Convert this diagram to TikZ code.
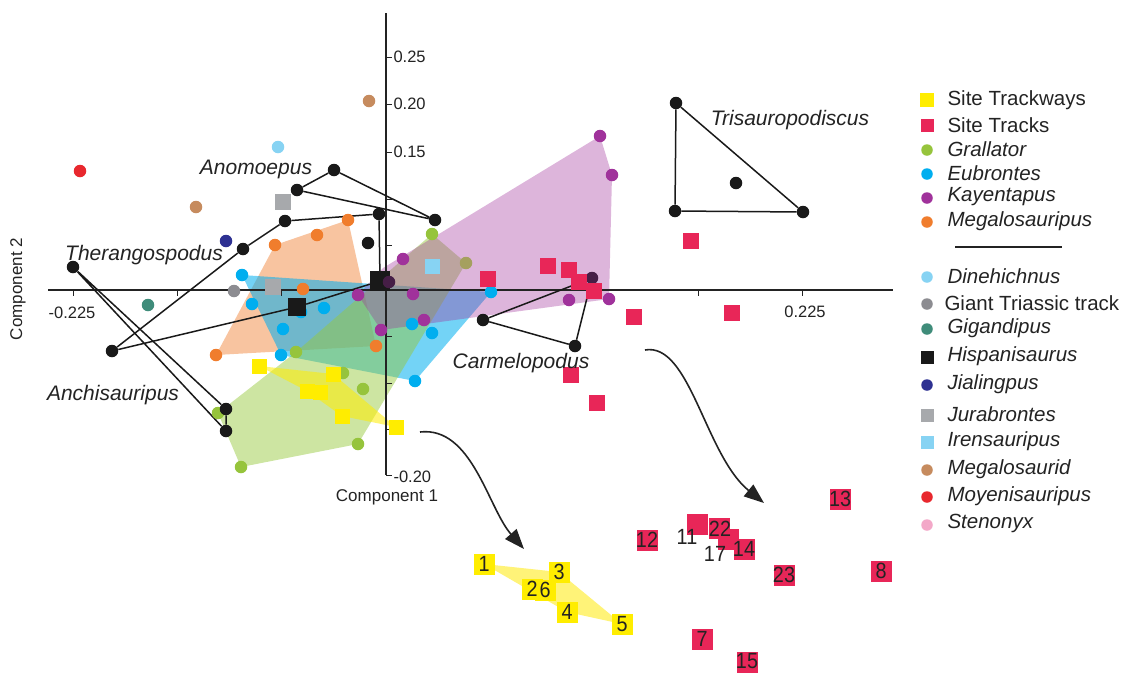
\documentclass[tikz,border=0pt]{standalone}
\usepackage{fontspec}
\setmainfont{Liberation Sans}
\setsansfont{Liberation Sans}
\usetikzlibrary{arrows.meta}
\pgfdeclarelayer{bg}
\pgfdeclarelayer{edges}
\pgfsetlayers{bg,edges,main}
\definecolor{cYel}{RGB}{255,237,0}
\definecolor{cRed}{RGB}{232,38,88}
\definecolor{cGre}{RGB}{150,196,60}
\definecolor{cOli}{RGB}{165,160,95}
\definecolor{cBlu}{RGB}{0,174,239}
\definecolor{cPur}{RGB}{160,50,155}
\definecolor{cOra}{RGB}{240,125,45}
\definecolor{cDin}{RGB}{135,211,243}
\definecolor{cGia}{RGB}{140,140,145}
\definecolor{cGig}{RGB}{63,140,122}
\definecolor{cJia}{RGB}{46,49,146}
\definecolor{cJur}{RGB}{167,169,172}
\definecolor{cMeg}{RGB}{198,139,94}
\definecolor{cMoy}{RGB}{232,40,46}
\definecolor{cSte}{RGB}{243,168,200}
\definecolor{cBlk}{RGB}{25,25,25}
\definecolor{cDpu}{RGB}{70,30,70}
\definecolor{hGre}{RGB}{150,200,60}
\definecolor{hOra}{RGB}{240,125,45}
\definecolor{hBlu}{RGB}{0,174,239}
\definecolor{hPur}{RGB}{160,50,155}
\definecolor{hYel}{RGB}{255,237,0}
\definecolor{hYel2}{RGB}{255,243,120}
\definecolor{cTxt}{RGB}{35,35,35}
\tikzset{
  dot/.style={circle, fill=#1, inner sep=0pt, minimum size=12.5pt},
  sq/.style={rectangle, fill=#1, inner sep=0pt, minimum size=15pt},
  hull/.style={fill=#1},
  genus/.style={draw=cBlk, line width=1.5pt},
  lab/.style={font=\fontsize{21}{24}\selectfont\itshape, text=cTxt},
  ticklab/.style={font=\fontsize{16.5}{19}\selectfont, text=cTxt},
  leg/.style={anchor=west, font=\fontsize{20.5}{24}\selectfont, text=cTxt},
  numbox/.style={rectangle, fill=#1, inner sep=0pt, minimum size=21pt},
  numtxt/.style={inner sep=0pt, font=\fontsize{22}{24}\selectfont, text=cTxt},
  curvedarrow/.style={draw=cTxt, line width=1.6pt, -{Triangle[length=20pt,width=15pt]}},
  axisline/.style={draw=cTxt, line width=1.5pt}
}
\newcommand{\nrw}[1]{\scalebox{0.9}[1]{#1}}
\begin{document}
\begin{tikzpicture}[x=1pt,y=-1pt]
\useasboundingbox (0,0) rectangle (1129,673);
% axes
\coordinate (xl) at (48,290); \coordinate (xr) at (893,290);
\coordinate (yt) at (386,13); \coordinate (yb) at (386,475);
\begin{pgfonlayer}{edges}
\draw[axisline] (xl) -- (xr);
\draw[axisline] (yt) -- (yb);
\foreach \x in {73,177,281,490,594,698,802} \draw[axisline,line width=1pt] (\x,290) -- (\x,296);
\foreach \y in {57,104,152,199,245,336,383,429,475} \draw[axisline,line width=1pt] (386,\y) -- (392,\y);
\end{pgfonlayer}
\node[ticklab, anchor=west] at (390,57) {0.25};
\node[ticklab, anchor=west] at (390,104) {0.20};
\node[ticklab, anchor=west] at (390,152) {0.15};
\node[ticklab, anchor=west] at (390,477) {-0.20};
\node[ticklab] at (72,313) {-0.225};
\node[ticklab] at (805,312) {0.225};
\node[font=\fontsize{17}{20}\selectfont, text=cTxt, rotate=90] at (18,289) {Component 2};
\node[font=\fontsize{17}{20}\selectfont, text=cTxt] at (387,497) {Component 1};

% green (Grallator)
\node[dot=cGre] (g1) at (432,234) {};
\node[dot=cOli] (g2) at (466,263) {};
\node[dot=cGre] (g3) at (296,352) {};
\node[dot=cGre] (g4) at (343,373) {};
\node[dot=cGre] (g5) at (218,413) {};
\node[dot=cGre] (g6) at (241,467) {};
\node[dot=cGre] (g7) at (358,444) {};
\node[dot=cGre] (g8) at (363,389) {};
% orange (Megalosauripus)
\node[dot=cOra] (o1) at (275,245) {};
\node[dot=cOra] (o2) at (317,235) {};
\node[dot=cOra] (o3) at (348,220) {};
\node[dot=cOra] (o4) at (303,289) {};
\node[dot=cOra] (o5) at (216,355) {};
\node[dot=cOra] (o6) at (376,346) {};
% blue (Eubrontes)
\node[dot=cBlu] (b1) at (242,275) {};
\node[dot=cBlu] (b2) at (252,304) {};
\node[dot=cBlu] (b3) at (283,329) {};
\node[dot=cBlu] (b4) at (281,355) {};
\node[dot=cBlu] (b5) at (324,308) {};
\node[dot=cBlu] (b6) at (301,312) {};
\node[dot=cBlu] (b7) at (412,324) {};
\node[dot=cBlu] (b8) at (432,333) {};
\node[dot=cBlu] (b9) at (415,381) {};
\node[dot=cBlu] (b10) at (491,292) {};
% purple (Kayentapus)
\node[dot=cPur] (p1) at (600,136) {};
\node[dot=cPur] (p2) at (612,175) {};
\node[dot=cPur] (p3) at (609,299) {};
\node[dot=cPur] (p4) at (569,300) {};
\node[dot=cPur] (p5) at (403,259) {};
\node[dot=cPur] (p6) at (413,294) {};
\node[dot=cPur] (p7) at (358,295) {};
\node[dot=cPur] (p8) at (381,330) {};
\node[dot=cPur] (p9) at (424,320) {};
% other taxa
\node[dot=cMoy] (moy) at (80,171) {};
\node[dot=cDin] (din) at (278,147) {};
\node[dot=cMeg] (meg1) at (369,101) {};
\node[dot=cMeg] (meg2) at (196,207) {};
\node[dot=cJia] (jia) at (226,241) {};
\node[dot=cGig] (gig) at (148,305) {};
\node[dot=cGia] (gia) at (234,291) {};
\node[sq=cJur, minimum size=16pt] (jur1) at (283,202) {};
\node[sq=cJur, minimum size=16pt] (jur2) at (273,287) {};
\node[sq=cDin] (ire) at (432,266) {};

% genus outlines (black)
\node[dot=cBlk] (A1) at (334,170) {};
\node[dot=cBlk] (A2) at (297,190) {};
\node[dot=cBlk] (A3) at (435,220) {};
\node[dot=cBlk] (T1) at (243,249) {};
\node[dot=cBlk] (T2) at (285,221) {};
\node[dot=cBlk] (T3) at (379,214) {};
\node[dot=cBlk] (T4) at (112,351) {};
\node[dot=cBlk] (iso) at (368,243) {};
\node[dot=cBlk] (Th) at (73,267) {};
\node[dot=cBlk] (An1) at (226,409) {};
\node[dot=cBlk] (An2) at (226,431) {};
\node[dot=cBlk] (C1) at (483,320) {};
\node[dot=cBlk] (C2) at (575,346) {};
\node[dot=cDpu] (C3) at (592,278) {};
\node[dot=cBlk] (Tr1) at (676,103) {};
\node[dot=cBlk] (Tr2) at (675,211) {};
\node[dot=cBlk] (Tr3) at (803,212) {};
\node[dot=cBlk] (Tr4) at (736,183) {};
\node[sq=cBlk, minimum size=18pt] (H1) at (297,307) {};
\node[sq=cBlk, minimum size=20pt] (H2) at (380,281) {};
\node[dot=cDpu] (p10) at (389,282) {};

% red site tracks
\node[sq=cRed, minimum size=16pt] (r1) at (488,279) {};
\node[sq=cRed, minimum size=16pt] (r2) at (548,266) {};
\node[sq=cRed, minimum size=16pt] (r3) at (569,270) {};
\node[sq=cRed, minimum size=16pt] (r4) at (579,282) {};
\node[sq=cRed, minimum size=16pt] (r5) at (594,291) {};
\node[sq=cRed, minimum size=16pt] (r6) at (634,317) {};
\node[sq=cRed, minimum size=16pt] (r7) at (691,241) {};
\node[sq=cRed, minimum size=16pt] (r8) at (732,313) {};
\node[sq=cRed, minimum size=16pt] (r9) at (571,375) {};
\node[sq=cRed, minimum size=16pt] (r10) at (597,403) {};
% yellow site trackways
\node[sq=cYel] (y1) at (259,366) {};
\node[sq=cYel] (y2) at (333,374) {};
\node[sq=cYel] (y3) at (307,391) {};
\node[sq=cYel] (y4) at (320,392) {};
\node[sq=cYel] (y5) at (342,416) {};
\node[sq=cYel] (y6) at (396,427) {};

\begin{pgfonlayer}{edges}
\draw[genus] (A2) -- (A1) -- (A3) -- (A2);
\draw[genus] (T4) -- (T1) -- (T2) -- (T3) -- (H2) -- (H1) -- (T4);
\draw[genus] (Th) -- (An1) -- (An2) -- (Th);
\draw[genus] (C1) -- (C2) -- (C3) -- (C1);
\draw[genus] (Tr1) -- (Tr2) -- (Tr3) -- (Tr1);
\end{pgfonlayer}

\begin{pgfonlayer}{bg}
\fill[hull=hOra, fill opacity=0.45] (o5.center) -- (o1.center) -- (o3.center) -- (o6.center) -- cycle;
\fill[hull=hBlu, fill opacity=0.55] (b1.center) -- (b10.center) -- (b9.center) -- (b4.center) -- cycle;
\fill[hull=hGre, fill opacity=0.48] (g5.center) -- (g3.center) -- (g1.center) -- (g2.center) -- (g7.center) -- (g6.center) -- cycle;
\fill[hull=hPur, fill opacity=0.36] (p1.center) -- (p2.center) -- (p3.center) -- (p8.center) -- (p7.center) -- (383,268) -- cycle;
\fill[hull=hYel, fill opacity=0.55] (y1.center) -- (y2.center) -- (y6.center) -- (y5.center) -- (y3.center) -- cycle;
\end{pgfonlayer}

% genus labels
\node[lab] (lAno) at (256,169) {Anomoepus};
\node[lab] (lThe) at (144,255) {Therangospodus};
\node[lab] (lAnc) at (113,395) {Anchisauripus};
\node[lab] (lCar) at (521,363) {Carmelopodus};
\node[lab] (lTri) at (790,120) {Trisauropodiscus};

% arrows
\coordinate (a1s) at (420,432); \coordinate (a1e) at (524,549);
\draw[curvedarrow] (a1s) .. controls (472,426) and (488,508) .. (a1e);
\coordinate (a2s) at (645,350); \coordinate (a2e) at (764,503);
\draw[curvedarrow] (a2s) .. controls (690,342) and (705,455) .. (a2e);

% inset: trackways
\node[numbox=cYel] (n1) at (484,564) {};
\node[numbox=cYel] (n3) at (559,572) {};
\node[numbox=cYel] (n2) at (532,589) {};
\node[numbox=cYel] (n6) at (545,590) {};
\node[numbox=cYel] (n4) at (567,612) {};
\node[numbox=cYel] (n5) at (622,624) {};
\begin{pgfonlayer}{bg}
\fill[fill=hYel2] (n1.center) -- (n3.center) -- (n5.center) -- (n4.center) -- cycle;
\end{pgfonlayer}
\node[numtxt] at (n1) {\nrw{1}};
\node[numtxt] at (n3) {\nrw{3}};
\node[numtxt] at (n2) {\nrw{2}};
\node[numtxt] at (n6) {\nrw{6}};
\node[numtxt] at (n4) {\nrw{4}};
\node[numtxt] at (n5) {\nrw{5}};
% inset: tracks
\node[numbox=cRed] (s12) at (647,540) {};
\node[numbox=cRed] (s11) at (697,524) {};
\node[numbox=cRed] (s22) at (719,528) {};
\node[numbox=cRed] (s17) at (728,539) {};
\node[numbox=cRed] (s14) at (744,549) {};
\node[numbox=cRed] (s23) at (784,575) {};
\node[numbox=cRed] (s13) at (840,499) {};
\node[numbox=cRed] (s8) at (881,571) {};
\node[numbox=cRed] (s7) at (702,639) {};
\node[numbox=cRed] (s15) at (747,662) {};
\node[numtxt] (t12) at (647,540) {\nrw{12}};
\node[numtxt] (t11) at (687,537) {\nrw{11}};
\node[numtxt] (t22) at (720,529) {\nrw{22}};
\node[numtxt] (t17) at (715,554) {\nrw{17}};
\node[numtxt] (t14) at (744,549) {\nrw{14}};
\node[numtxt] (t23) at (784,575) {\nrw{23}};
\node[numtxt] (t13) at (840,499) {\nrw{13}};
\node[numtxt] (t8) at (881,571) {\nrw{8}};
\node[numtxt] (t7) at (702,639) {\nrw{7}};
\node[numtxt] (t15) at (747,661) {\nrw{15}};

% legend
\node[sq=cYel, minimum size=14pt] (k1) at (927,100) {};
\node[leg] at (944,100) {Site Trackways};
\node[sq=cRed, minimum size=13pt] (k2) at (927,125) {};
\node[leg] at (944,125) {Site Tracks};
\node[dot=cGre, minimum size=11.5pt] (k3) at (927,150) {};
\node[leg] at (944,149) {\itshape Grallator};
\node[dot=cBlu, minimum size=11.5pt] (k4) at (927,174) {};
\node[leg] at (944,173) {\itshape Eubrontes};
\node[dot=cPur, minimum size=11.5pt] (k5) at (927,198) {};
\node[leg] at (944,197) {\itshape Kayentapus};
\node[dot=cOra, minimum size=11.5pt] (k6) at (927,222) {};
\node[leg] at (944,221) {\itshape Megalosauripus};
\draw[line width=1.3pt, draw=cTxt] (955,247) -- (1062,247);
\node[dot=cDin, minimum size=11.5pt] (k7) at (927,277) {};
\node[leg] at (944,276) {\itshape Dinehichnus};
\node[dot=cGia, minimum size=11.5pt] (k8) at (927,304) {};
\node[leg] at (941,303) {Giant Triassic track};
\node[dot=cGig, minimum size=11.5pt] (k9) at (927,329) {};
\node[leg] at (944,328) {\itshape Gigandipus};
\node[sq=cBlk, minimum size=13pt] (k10) at (927,357) {};
\node[leg] at (944,356) {\itshape Hispanisaurus};
\node[dot=cJia, minimum size=11.5pt] (k11) at (927,385) {};
\node[leg] at (944,384) {\itshape Jialingpus};
\node[sq=cJur, minimum size=13pt] (k12) at (927,415) {};
\node[leg] at (944,414) {\itshape Jurabrontes};
\node[sq=cDin, minimum size=13pt] (k13) at (927,442) {};
\node[leg] at (944,441) {\itshape Irensauripus};
\node[dot=cMeg, minimum size=11.5pt] (k14) at (927,470) {};
\node[leg] at (944,469) {\itshape Megalosaurid};
\node[dot=cMoy, minimum size=11.5pt] (k15) at (927,497) {};
\node[leg] at (944,496) {\itshape Moyenisauripus};
\node[dot=cSte, minimum size=11.5pt] (k16) at (927,525) {};
\node[leg] at (944,523) {\itshape Stenonyx};
\end{tikzpicture}
\end{document}
